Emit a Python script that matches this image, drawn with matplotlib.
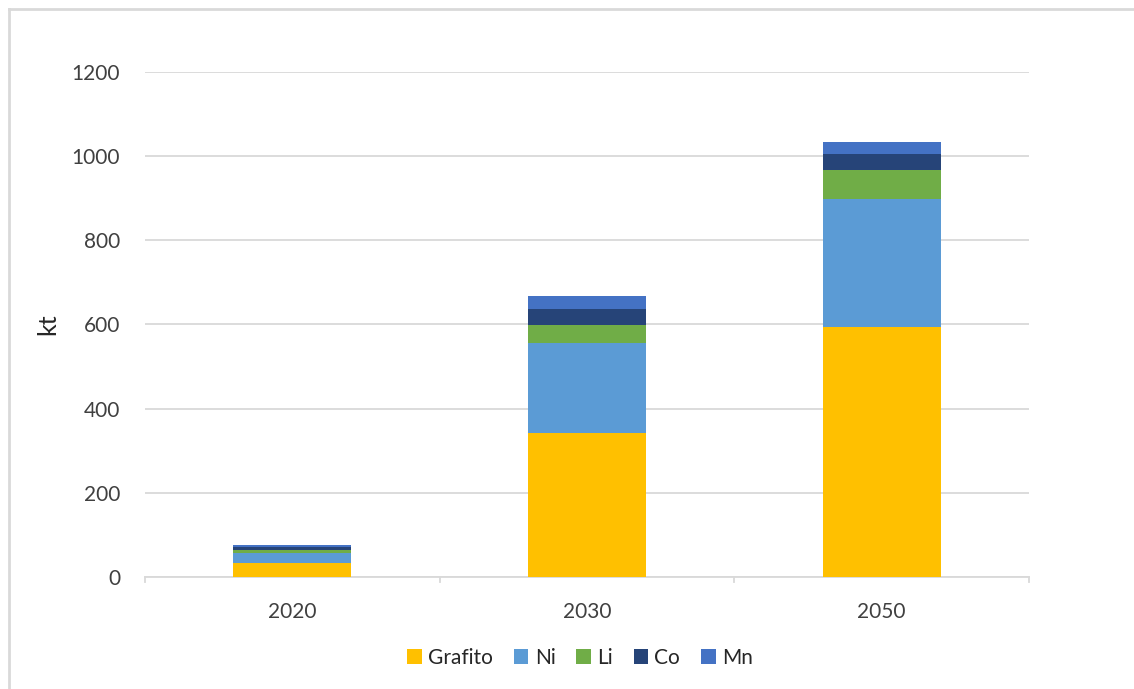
import numpy as np
import matplotlib.pyplot as plt
from matplotlib.lines import Line2D

plt.rcParams['font.family'] = ['Lato', 'DejaVu Sans']

# Demanda de materiales por año (kt)
years = ["2020", "2030", "2050"]
materials = ["Grafito", "Ni", "Li", "Co", "Mn"]
grafito = [34, 343, 595]
ni = [24, 212, 304]
li = [5, 43, 69]
co = [9, 39, 37]
mn = [5, 30, 29]
colors = ["#FFC000", "#5B9BD5", "#70AD47", "#264478", "#4472C4"]

series = [grafito, ni, li, co, mn]

fig = plt.figure(figsize=(11.34, 6.89), dpi=100)
ax = fig.add_axes([0.1279, 0.1626, 0.7795, 0.7329])

x = np.arange(len(years))
bottom = np.zeros(len(years))
for name, vals, col in zip(materials, series, colors):
    ax.bar(x, vals, width=0.4, bottom=bottom, color=col, label=name, zorder=3)
    bottom += np.array(vals)

ax.set_xlim(-0.5, len(years) - 0.5)
ax.set_ylim(0, 1200)
ax.set_yticks(np.arange(0, 1201, 200))
ax.set_xticks(x)
ax.set_xticklabels(years)
ax.tick_params(axis='y', length=0, pad=18, labelsize=15, labelcolor="#404040")
ax.tick_params(axis='x', length=0, pad=18, labelsize=15, labelcolor="#404040")

# category separators under the axis
for b in np.arange(-0.5, len(years), 1):
    ax.plot([b, b], [0, -12], color="#d9d9d9", lw=1.3, clip_on=False, zorder=2)

ax.grid(axis='y', color="#d9d9d9", lw=1.3, zorder=0)
for s in ["top", "right", "left"]:
    ax.spines[s].set_visible(False)
ax.spines["bottom"].set_color("#d9d9d9")
ax.spines["bottom"].set_linewidth(1.3)

ax.set_ylabel("kt", fontsize=18, color="#262626", labelpad=9)

ax.legend(loc="center", bbox_to_anchor=(0.492, -0.16), ncol=5, frameon=False,
          fontsize=15, handlelength=0.7, handleheight=0.7, handletextpad=0.3,
          columnspacing=1.0, labelcolor="#262626")

# chart border
fig.add_artist(Line2D([9/1134, 1], [1 - 9/689, 1 - 9/689], color="#d9d9d9", lw=2))
fig.add_artist(Line2D([9/1134, 9/1134], [0, 1 - 9/689], color="#d9d9d9", lw=2))

fig.savefig("out.png", dpi=100)
